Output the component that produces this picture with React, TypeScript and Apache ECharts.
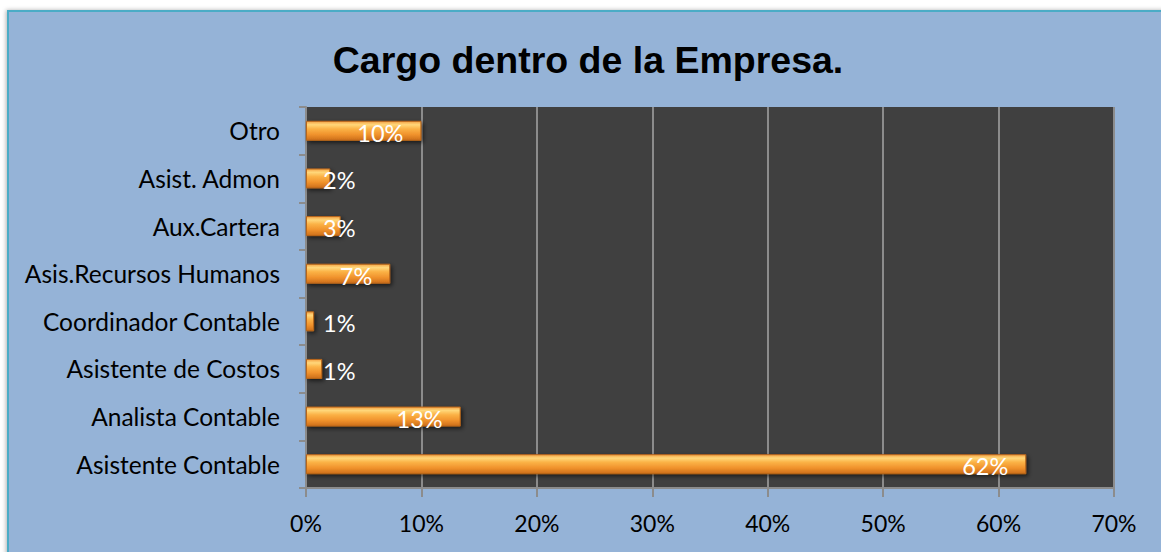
import React, { useEffect, useRef } from "react";
import * as echarts from "echarts";

const titleText = "Cargo dentro de la Empresa.";
const categories = [
  "Otro",
  "Asist. Admon",
  "Aux.Cartera",
  "Asis.Recursos Humanos",
  "Coordinador Contable",
  "Asistente de Costos",
  "Analista Contable",
  "Asistente Contable",
];
const values = [10.0, 2.1, 3.0, 7.3, 0.7, 1.4, 13.4, 62.4];
const xTicks = [0, 10, 20, 30, 40, 50, 60, 70];

export default function App() {
  const ref = useRef<HTMLDivElement>(null);
  useEffect(() => {
    if (!ref.current) return;
    const chart = echarts.init(ref.current, undefined, { renderer: "svg" });
    const barColor = new echarts.graphic.LinearGradient(0, 0, 0, 1, [
      { offset: 0, color: "#f4a245" },
      { offset: 0.18, color: "#ffd77a" },
      { offset: 0.4, color: "#fbb246" },
      { offset: 0.7, color: "#f0922c" },
      { offset: 1, color: "#cc6e1a" },
    ]);
    const data = values.map((v) => ({
      value: v,
      label: {
        position: v < 5 ? "insideLeft" : "insideRight",
        distance: v < 5 ? 17 : 18,
      },
    }));
    chart.setOption({
      animation: false,
      backgroundColor: "#ffffff",
      graphic: [
        {
          type: "rect",
          z: -10,
          shape: { x: 8, y: 11, width: 1170, height: 560 },
          style: {
            fill: "#95b3d7",
            stroke: "#4bacc6",
            lineWidth: 2,
            shadowColor: "rgba(0,0,0,0.3)",
            shadowBlur: 4,
            shadowOffsetX: -1,
          },
        },
      ],
      title: {
        text: titleText,
        left: 583,
        top: 55,
        textAlign: "center",
        textVerticalAlign: "middle",
        textStyle: {
          fontFamily: "Liberation Sans, Arial, sans-serif",
          fontWeight: "bold",
          fontSize: 37.5,
          color: "#000000",
        },
      },
      grid: {
        left: 306,
        right: 47,
        top: 107,
        bottom: 64,
        show: true,
        backgroundColor: "#404040",
        borderWidth: 0,
      },
      xAxis: {
        type: "value",
        min: 0,
        max: 70,
        interval: 10,
        axisLine: { show: true, lineStyle: { color: "#8c8c8c", width: 2 } },
        axisTick: { show: true, length: 9, lineStyle: { color: "#8c8c8c", width: 2 } },
        splitLine: { show: true, lineStyle: { color: "#8c8c8c", width: 2 } },
        axisLabel: {
          margin: 23,
          fontFamily: "Lato, sans-serif",
          fontSize: 23,
          color: "#000000",
          formatter: (v: number) => (xTicks.includes(v) ? v + "%" : ""),
        },
      },
      yAxis: {
        type: "category",
        data: categories,
        inverse: true,
        axisLine: { show: true, lineStyle: { color: "#8c8c8c", width: 2 } },
        axisTick: { show: true, length: 7, inside: false, lineStyle: { color: "#8c8c8c", width: 2 } },
        axisLabel: {
          margin: 26,
          fontFamily: "Lato, sans-serif",
          fontSize: 24.5,
          color: "#000000",
        },
      },
      series: [
        {
          type: "bar",
          data,
          barWidth: 20,
          itemStyle: {
            color: barColor,
            borderColor: "#b8661a",
            borderWidth: 1,
            shadowColor: "rgba(0,0,0,0.6)",
            shadowBlur: 4,
            shadowOffsetX: 2,
            shadowOffsetY: 2,
          },
          label: {
            show: true,
            color: "#ffffff",
            fontFamily: "Lato, sans-serif",
            fontSize: 23.5,
            offset: [0, 2],
            formatter: (p: any) => Math.round(p.value) + "%",
          },
        },
      ],
    });
    return () => chart.dispose();
  }, []);
  return (
    <div
      ref={ref}
      style={{ position: "fixed", left: 0, top: 0, width: 1161, height: 552 }}
    />
  );
}
